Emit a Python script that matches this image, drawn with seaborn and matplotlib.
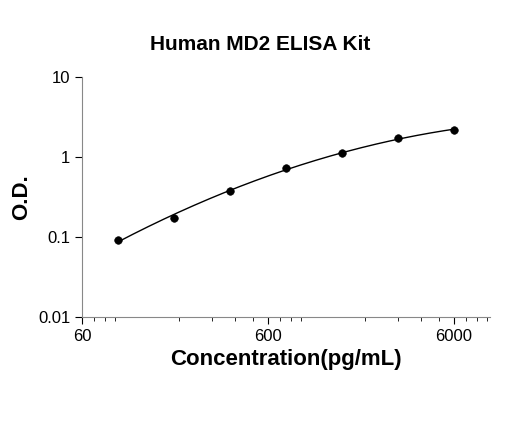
import numpy as np
import matplotlib
matplotlib.use("Agg")
import matplotlib.pyplot as plt
import seaborn as sns

conc = [93.75, 187.5, 375, 750, 1500, 3000, 6000]
od = [0.092, 0.175, 0.38, 0.72, 1.12, 1.75, 2.15]
x_ticks = [60, 600, 6000]
y_ticks = [0.01, 0.1, 1, 10]

sns.set_style("white")
plt.rcParams['font.family'] = ['Liberation Sans', 'DejaVu Sans']
plt.rcParams['text.color'] = 'black'
plt.rcParams['axes.labelcolor'] = 'black'
plt.rcParams['xtick.color'] = 'black'
plt.rcParams['ytick.color'] = 'black'
fig = plt.figure(figsize=(5.2, 4.21), dpi=100)
ax = fig.add_axes([82/520, 1-317/421, (490-82)/520, (317-77)/421])

lx, ly = np.log10(conc), np.log10(od)
c = np.polyfit(lx, ly, 2)
xs = np.linspace(lx[0], lx[-1], 200)
ax.plot(10**xs, 10**np.polyval(c, xs), color='black', lw=1)
sns.scatterplot(x=conc, y=od, color='black', s=30, ax=ax, edgecolor='black', zorder=3)

ax.set_xscale('log'); ax.set_yscale('log')
ax.set_xlim(60, 60*10**(408/186)); ax.set_ylim(0.01, 10)
ax.set_xticks(x_ticks); ax.set_xticklabels([str(t) for t in x_ticks])
ax.set_yticks(y_ticks); ax.set_yticklabels(['0.01', '0.1', '1', '10'])
ax.tick_params(axis='both', which='major', length=5, direction='out', labelsize=12, bottom=True, left=True, colors='black')
ax.tick_params(axis='x', which='minor', length=3, direction='out', bottom=True)
ax.tick_params(axis='y', which='minor', length=0)
for s in ['top', 'right']:
    ax.spines[s].set_visible(False)
for s in ['left', 'bottom']:
    ax.spines[s].set_color('#888888')
ax.set_xlabel('Concentration(pg/mL)', fontsize=16, fontweight='bold')
ax.set_ylabel('O.D.', fontsize=16, fontweight='bold')
fig.text(0.5, 1-45/421, 'Human MD2 ELISA Kit', ha='center', va='center', fontsize=15, fontweight='bold')
fig.savefig('out.png', dpi=100)
